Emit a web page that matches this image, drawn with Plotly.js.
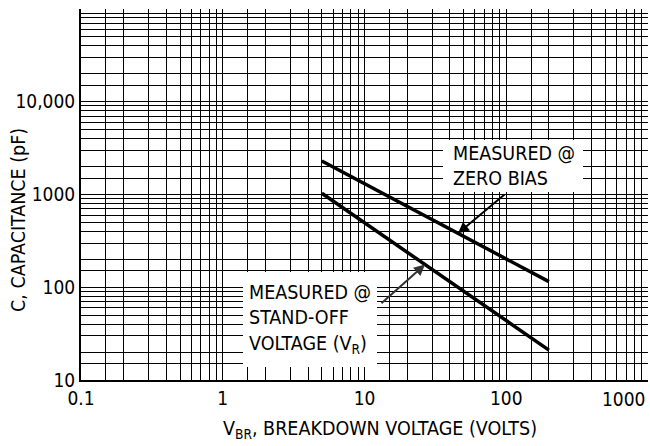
<!DOCTYPE html>
<html>
<head>
<meta charset="utf-8">
<script src="https://cdn.plot.ly/plotly-3.0.1.min.js"></script>
<style>html,body{margin:0;padding:0;background:#fff;}#chart{width:650px;height:446px;}</style>
</head>
<body>
<div id="chart"></div>
<script>
// Data
const zeroBiasV = [5, 200];
const zeroBiasC = [2300, 115];
const standOffV = [5, 200];
const standOffC = [1030, 21];

const xDecades = [0.1, 1, 10, 100, 1000];
const xDecadeLabels = ['0.1', '1', '10', '100', ''];
const yDecades = [10, 100, 1000, 10000, 100000];
const yDecadeLabels = ['10', '100', '1000', '10,000', ''];
const gridMultipliers = [1, 1.5, 2, 3, 4, 5, 6, 7, 8, 9];

const FONT = '"Liberation Sans Narrow", "Arial Narrow", "DejaVu Sans Condensed", "Liberation Sans", Arial, sans-serif';

function gridTicks(decades, labels) {
  const vals = [], text = [];
  decades.forEach((d, i) => {
    if (i === decades.length - 1) { vals.push(d); text.push(labels[i]); return; }
    gridMultipliers.forEach(m => {
      vals.push(d * m);
      text.push(m === 1 ? labels[i] : '');
    });
  });
  return {vals, text};
}
const xt = gridTicks(xDecades, xDecadeLabels);
const yt = gridTicks(yDecades, yDecadeLabels);

// point on a series (log-log straight segment) for arrow targets
function onLine(xs, ys, xv) {
  const lx0 = Math.log10(xs[0]), lx1 = Math.log10(xs[1]);
  const ly0 = Math.log10(ys[0]), ly1 = Math.log10(ys[1]);
  const t = (Math.log10(xv) - lx0) / (lx1 - lx0);
  return [Math.log10(xv), ly0 + t * (ly1 - ly0)];
}
const zbTip = onLine(zeroBiasV, zeroBiasC, 45.7);
const soTip = onLine(standOffV, standOffC, 26.7);

const traces = [
  {x: zeroBiasV, y: zeroBiasC, mode: 'lines', line: {color: '#000', width: 3.5}, name: 'Zero bias', showlegend: false},
  {x: standOffV, y: standOffC, mode: 'lines', line: {color: '#000', width: 3.5}, name: 'Stand-off', showlegend: false}
];

const TXT = 19.5;
const TICK = 19;

const layout = {
  width: 650, height: 446,
  margin: {l: 81, r: 2, t: 9, b: 66},
  paper_bgcolor: '#fff', plot_bgcolor: '#fff',
  font: {family: FONT, size: TICK, color: '#000'},
  showlegend: false,
  xaxis: {
    type: 'log', range: [-1, 3],
    tickmode: 'array', tickvals: xt.vals, ticktext: xt.text,
    showgrid: true, gridcolor: '#000', gridwidth: 1,
    showline: true, linecolor: '#000', linewidth: 2,
    ticks: '', zeroline: false,
    tickfont: {family: FONT, size: TICK, color: '#000'}
  },
  yaxis: {
    type: 'log', range: [1, 5],
    tickmode: 'array', tickvals: yt.vals, ticktext: yt.text,
    showgrid: true, gridcolor: '#000', gridwidth: 1,
    showline: true, linecolor: '#000', linewidth: 2,
    ticks: '', zeroline: false,
    tickfont: {family: FONT, size: TICK, color: '#000'}
  },
  shapes: [
    {type: 'rect', xref: 'paper', yref: 'paper', layer: 'above',
     x0: (443 - 81) / 567, x1: (583 - 81) / 567, y0: (380 - 192) / 371, y1: (380 - 140) / 371,
     fillcolor: '#fff', line: {width: 0}},
    {type: 'rect', xref: 'paper', yref: 'paper', layer: 'above',
     x0: (243 - 81) / 567, x1: (377 - 81) / 567, y0: (380 - 367) / 371, y1: (380 - 272) / 371,
     fillcolor: '#fff', line: {width: 0}}
  ],
  annotations: [
    {xref: 'paper', yref: 'paper', x: (451 - 81) / 567, y: (380 - 166) / 371,
     xanchor: 'left', yanchor: 'middle', align: 'left', showarrow: false,
     text: 'MEASURED @<br>ZERO BIAS', font: {family: FONT, size: TXT, color: '#000'}},
    {xref: 'paper', yref: 'paper', x: (247 - 81) / 567, y: (380 - 319) / 371,
     xanchor: 'left', yanchor: 'middle', align: 'left', showarrow: false,
     text: 'MEASURED @<br>STAND-OFF<br>VOLTAGE (V<sub>R</sub>)', font: {family: FONT, size: TXT, color: '#000'}},
    {x: zbTip[0], y: zbTip[1], xref: 'x', yref: 'y', text: '', showarrow: true,
     ax: 48, ay: -40, arrowhead: 2, arrowsize: 1.1, arrowwidth: 2, arrowcolor: '#000'},
    {x: soTip[0], y: soTip[1], xref: 'x', yref: 'y', text: '', showarrow: true,
     ax: -45, ay: 40, arrowhead: 2, arrowsize: 1.1, arrowwidth: 2, arrowcolor: '#333'},
    {xref: 'paper', yref: 'paper', x: 1, y: 0, yshift: -6, xanchor: 'right', yanchor: 'top',
     showarrow: false, text: '1000', font: {family: FONT, size: TICK, color: '#000'}},
    {xref: 'paper', yref: 'paper', x: (380 - 81) / 567, y: (380 - 430) / 371,
     xanchor: 'center', yanchor: 'middle', showarrow: false,
     text: 'V<sub>BR</sub>, BREAKDOWN VOLTAGE (VOLTS)', font: {family: FONT, size: TXT, color: '#000'}},
    {xref: 'paper', yref: 'paper', x: (18 - 81) / 567, y: (380 - 220) / 371,
     xanchor: 'center', yanchor: 'middle', textangle: -90, showarrow: false,
     text: 'C, CAPACITANCE (pF)', font: {family: FONT, size: TXT, color: '#000'}}
  ]
};

Plotly.newPlot('chart', traces, layout, {displayModeBar: false, staticPlot: true});
</script>
</body>
</html>
